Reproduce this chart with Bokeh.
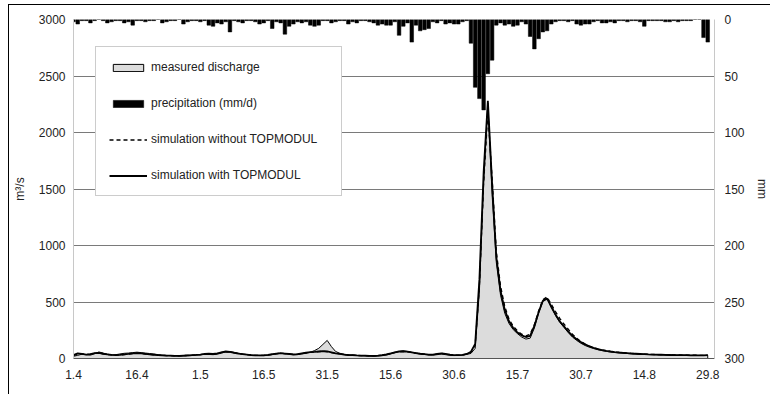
from bokeh.plotting import figure
from bokeh.models import (Range1d, LinearAxis, FixedTicker, ColumnDataSource,
                          Legend, LegendItem)
from bokeh.embed import file_html
from bokeh.resources import INLINE

# ---------------- data (daily, day 0 = 1 April ... day 150 = 29 August) -------------
x_tick_days = [0, 15, 30, 45, 60, 75, 90, 105, 120, 135, 150]
x_tick_labels = ["1.4", "16.4", "1.5", "16.5", "31.5", "15.6", "30.6",
                 "15.7", "30.7", "14.8", "29.8"]
q_ticks = [0, 500, 1000, 1500, 2000, 2500, 3000]
p_ticks = [0, 50, 100, 150, 200, 250, 300]

measured = [
    20, 28, 38, 34, 30, 42, 58, 48, 38, 32,
    34, 40, 46, 48, 52, 56, 52, 48, 44, 40,
    34, 30, 27, 25, 23, 22, 22, 24, 26, 30,
    34, 38, 36, 34, 38, 48, 58, 62, 55, 46,
    40, 35, 31, 28, 26, 26, 29, 34, 40, 46,
    42, 36, 32, 34, 40, 46, 55, 70, 90, 125,
    160, 105, 62, 46, 38, 33, 30, 27, 25, 23,
    21, 20, 22, 25, 30, 40, 52, 62, 66, 62,
    55, 46, 40, 36, 32, 30, 34, 40, 34, 28,
    26, 27, 30, 36, 45, 90, 600, 1550, 2260, 1450,
    850, 560, 400, 310, 255, 220, 190, 172, 180, 270,
    400, 505, 535, 450, 380, 320, 275, 230, 190, 160,
    135, 115, 100, 88, 78, 70, 63, 58, 54, 50,
    47, 44, 42, 40, 38, 36, 35, 34, 33, 32,
    31, 30, 30, 29, 29, 28, 28, 28, 27, 27,
    28]

sim_with = [
    30, 45, 40, 35, 38, 48, 50, 42, 36, 32,
    30, 32, 36, 40, 45, 48, 45, 40, 36, 33,
    30, 28, 26, 25, 24, 24, 26, 28, 30, 32,
    35, 40, 42, 40, 45, 55, 62, 58, 50, 44,
    38, 34, 30, 28, 27, 28, 32, 38, 44, 48,
    44, 40, 36, 38, 45, 52, 56, 58, 62, 66,
    62, 54, 46, 40, 35, 31, 29, 27, 26, 25,
    24, 24, 26, 30, 36, 45, 55, 62, 64, 60,
    54, 48, 42, 38, 34, 34, 40, 46, 40, 34,
    30, 30, 32, 40, 60, 130, 700, 1650, 2280, 1550,
    900, 600, 430, 330, 270, 230, 205, 190, 200, 290,
    410, 510, 530, 460, 390, 330, 285, 240, 200, 170,
    145, 125, 108, 95, 84, 75, 68, 62, 57, 53,
    50, 47, 44, 42, 40, 38, 36, 35, 34, 33,
    32, 31, 30, 30, 29, 29, 28, 28, 28, 27,
    30]

sim_without = [
    28, 42, 40, 36, 38, 46, 48, 42, 36, 32,
    30, 32, 35, 39, 44, 47, 44, 40, 36, 33,
    30, 28, 26, 25, 24, 24, 26, 28, 30, 32,
    35, 39, 41, 40, 44, 54, 60, 57, 50, 44,
    38, 34, 30, 28, 27, 28, 32, 37, 43, 47,
    44, 40, 36, 38, 44, 50, 54, 56, 60, 64,
    60, 52, 45, 40, 35, 31, 29, 27, 26, 25,
    24, 24, 26, 30, 35, 44, 54, 60, 62, 58,
    53, 47, 42, 38, 34, 34, 39, 45, 40, 34,
    30, 30, 32, 38, 55, 120, 640, 1550, 2180, 1600,
    950, 640, 460, 350, 285, 245, 215, 200, 215, 300,
    420, 520, 545, 480, 415, 355, 305, 260, 215, 180,
    150, 128, 110, 97, 86, 77, 69, 63, 58, 54,
    51, 48, 45, 43, 41, 39, 37, 36, 35, 34,
    33, 32, 31, 31, 30, 30, 29, 29, 28, 28,
    29]

precip = [
    2, 4, 1, 1, 3, 1, 0, 1, 3, 2,
    1, 1, 3, 2, 5, 1, 1, 2, 1, 1,
    0, 3, 2, 1, 1, 0, 4, 2, 1, 1,
    2, 1, 5, 6, 3, 4, 2, 11, 1, 2,
    3, 1, 1, 2, 4, 3, 1, 8, 2, 3,
    13, 6, 4, 2, 3, 2, 5, 6, 5, 1,
    1, 3, 2, 1, 1, 4, 2, 3, 1, 1,
    2, 3, 5, 4, 5, 5, 2, 14, 6, 3,
    20, 5, 10, 9, 8, 2, 3, 1, 4, 3,
    4, 4, 2, 1, 21, 60, 70, 80, 48, 36,
    5, 3, 5, 4, 6, 5, 2, 4, 15, 26,
    17, 11, 10, 4, 2, 1, 1, 2, 1, 4,
    5, 4, 4, 2, 1, 3, 3, 2, 3, 1,
    1, 2, 1, 1, 2, 6, 1, 1, 1, 1,
    2, 2, 1, 2, 1, 1, 1, 0, 0, 16,
    20]

days = list(range(len(measured)))

src = ColumnDataSource(dict(day=days, measured=measured, sim_with=sim_with,
                            sim_without=sim_without, precip=precip,
                            zero=[0] * len(days)))
# closed outline of the measured-discharge area (data, then back along the baseline)
area_src = ColumnDataSource(dict(x=days + days[::-1],
                                 y=measured + [0] * len(days)))

FONT = "Liberation Sans"

p = figure(width=762, height=390, output_backend="svg", toolbar_location=None,
           x_range=Range1d(0, 151.6), y_range=Range1d(0, 3000),
           min_border_left=64, min_border_right=51, min_border_top=14,
           min_border_bottom=37, y_axis_location=None)
p.styles = {"border-left": "1px solid black", "border-top": "1px solid black",
            "margin-left": "8px", "margin-top": "4px"}
p.outline_line_color = None
p.background_fill_color = "white"
p.border_fill_color = "white"
p.xgrid.visible = False

p.extra_y_ranges = {"rain": Range1d(start=300, end=0)}

yl = LinearAxis(ticker=FixedTicker(ticks=q_ticks), axis_label="m³/s")
p.add_layout(yl, "left")
yr = LinearAxis(y_range_name="rain", ticker=FixedTicker(ticks=p_ticks), axis_label="mm")
p.add_layout(yr, "right")

p.ygrid.ticker = FixedTicker(ticks=q_ticks)
p.ygrid.grid_line_color = "#7a7a7a"
p.ygrid.grid_line_width = 1

for ax in (yl, yr, p.xaxis[0]):
    ax.major_tick_out = 0
    ax.major_tick_in = 0
    ax.minor_tick_out = 0
    ax.minor_tick_in = 0
    ax.major_label_text_font = FONT
    ax.major_label_text_font_size = "12px"
    ax.major_label_text_color = "#222222"
    ax.axis_label_text_font = FONT
    ax.axis_label_text_font_size = "12px"
    ax.axis_label_text_font_style = "normal"
    ax.axis_label_text_color = "#222222"

yl.axis_line_color = "#c8c8c8"
yl.major_label_standoff = 8
yl.axis_label_standoff = 9
yr.axis_line_color = "#c8c8c8"
yr.major_label_standoff = 10
yr.axis_label_standoff = 7

xa = p.xaxis[0]
xa.ticker = FixedTicker(ticks=x_tick_days)
xa.major_label_overrides = {d: lab for d, lab in zip(x_tick_days, x_tick_labels)}
xa.axis_line_color = "#555555"
xa.major_label_standoff = 11

# measured discharge: light grey area with black outline
r_meas = p.patch(x="x", y="y", source=area_src, fill_color="#dcdcdc",
                 line_color="black", line_width=1)

# precipitation bars hanging from the top (reversed right axis)
r_prec = p.vbar(x="day", top="zero", bottom="precip", width=0.85, source=src,
                y_range_name="rain", fill_color="black", line_color="black", line_width=0.5)

r_without = p.line(x="day", y="sim_without", source=src, line_color="black",
                   line_width=1.3, line_dash="4 3")
r_with = p.line(x="day", y="sim_with", source=src, line_color="black", line_width=1.8)

legend = Legend(items=[
    LegendItem(label="measured discharge", renderers=[r_meas]),
    LegendItem(label="precipitation (mm/d)", renderers=[r_prec]),
    LegendItem(label="simulation without TOPMODUL", renderers=[r_without]),
    LegendItem(label="simulation with TOPMODUL", renderers=[r_with]),
], location=(22, 162))
legend.label_text_font = FONT
legend.label_text_font_size = "12px"
legend.label_text_color = "#222222"
legend.padding = 13
legend.margin = 0
legend.spacing = 22
legend.glyph_width = 38
legend.glyph_height = 9
legend.label_height = 14
legend.label_standoff = 4
legend.label_width = 177
legend.border_line_color = "#999999"
legend.border_line_width = 1
legend.background_fill_color = "white"
legend.background_fill_alpha = 1.0
p.add_layout(legend, "center")

open("out.html", "w").write(file_html(p, INLINE))
